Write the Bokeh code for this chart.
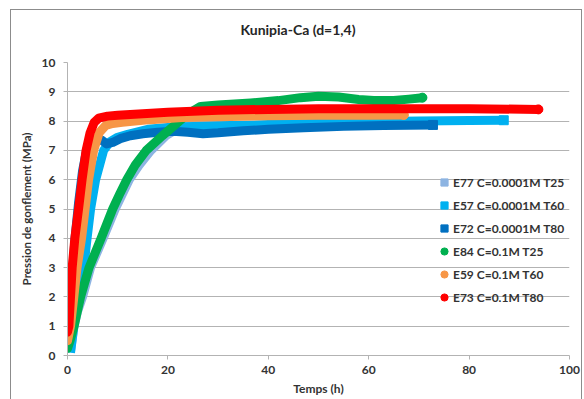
from bokeh.plotting import figure
from bokeh.models import Legend, LegendItem, FixedTicker
from bokeh.embed import file_html
from bokeh.resources import INLINE

# ---- data ----
title_text = "Kunipia-Ca (d=1,4)"

e77_t = [0.6, 1.3, 2.0, 3.0, 4.6, 7.1, 9.5, 12.3, 14.3, 16.6, 19.6, 23.0, 26.0, 29.0]
e77_p = [0.15, 1.0, 1.5, 2.0, 3.0, 4.0, 5.0, 6.0, 6.5, 7.0, 7.5, 7.85, 7.95, 8.0]

e57_t = [0.6, 1.26, 2.25, 3.25, 3.9, 4.6, 5.6, 7.2, 8.5, 10, 12, 16, 20, 25, 30, 40, 50, 60, 70, 80, 86.9]
e57_p = [0.1, 1.0, 2.0, 3.0, 4.0, 5.0, 6.0, 7.0, 7.3, 7.45, 7.55, 7.72, 7.78, 7.82, 7.84, 7.88, 7.93, 7.98, 8.0, 8.02, 8.03]

e72_t = [0, 0.4, 0.9, 1.5, 2.2, 3.0, 3.8, 4.5, 5.5, 6.8, 7.8, 9.0, 10.5, 12.5, 15, 18, 21, 24, 27, 30, 35, 40, 47, 55, 63, 72.8]
e72_p = [0.6, 1.5, 2.6, 4.0, 5.2, 6.3, 7.0, 7.38, 7.4, 7.35, 7.22, 7.27, 7.4, 7.5, 7.57, 7.62, 7.65, 7.62, 7.57, 7.6, 7.67, 7.72, 7.77, 7.82, 7.85, 7.87]

e84_t = [0.0, 0.5, 1.3, 2.6, 4.3, 6.7, 9.0, 10.5, 11.8, 13.5, 15.7, 18.9, 22.3, 24.5, 26.5, 30, 36.5, 42, 46.4, 50, 54, 58, 61, 65, 68, 70.7]
e84_p = [0.24, 0.5, 1.0, 2.0, 3.0, 4.0, 5.0, 5.55, 6.0, 6.5, 7.0, 7.5, 8.0, 8.3, 8.5, 8.55, 8.62, 8.7, 8.8, 8.85, 8.82, 8.74, 8.7, 8.7, 8.75, 8.8]

e59_t = [0, 0.6, 1.26, 1.9, 2.8, 3.5, 4.2, 5.2, 6.3, 7.6, 9.0, 10.9, 16.5, 22.8, 30, 40, 50, 60, 67]
e59_p = [0.5, 1.0, 2.0, 3.0, 4.0, 5.0, 6.0, 7.0, 7.6, 7.85, 7.92, 7.96, 8.05, 8.12, 8.15, 8.18, 8.2, 8.2, 8.21]

e73_t = [0, 0.27, 0.6, 0.93, 1.46, 2.2, 2.9, 3.7, 4.5, 5.3, 6.2, 8, 10, 15, 20, 30, 40, 50, 60, 70, 80, 93.8]
e73_p = [0.8, 1.0, 2.0, 3.0, 4.0, 5.0, 6.0, 7.0, 7.6, 7.95, 8.1, 8.17, 8.2, 8.25, 8.3, 8.37, 8.4, 8.42, 8.42, 8.42, 8.42, 8.4]

labels = ["E77 C=0.0001M T25", "E57 C=0.0001M T60", "E72 C=0.0001M T80",
          "E84 C=0.1M T25", "E59 C=0.1M T60", "E73 C=0.1M T80"]
colors = ["#8db4e2", "#00b0f0", "#0070c0", "#00b050", "#f79646", "#ff0000"]
markers = ["square", "square", "square", "circle", "circle", "circle"]
series = [(e77_t, e77_p), (e57_t, e57_p), (e72_t, e72_p),
          (e84_t, e84_p), (e59_t, e59_p), (e73_t, e73_p)]

x_ticks = [0, 20, 40, 60, 80, 100]
y_ticks = [0, 1, 2, 3, 4, 5, 6, 7, 8, 9, 10]

FONT = "Lato"
TXT = "#333333"
GRID = "#b3b3b3"

p = figure(width=572, height=400, x_range=(0, 100), y_range=(0, 10),
           output_backend="svg", toolbar_location=None,
           min_border_left=56, min_border_right=14, min_border_top=52, min_border_bottom=55,
           title=title_text + "\n")
p.styles = {"margin-left": "10px", "margin-top": "9px", "border": "1px solid #8c8c8c"}
p.outline_line_color = None

p.title.align = "left"
p.title.offset = 173
p.title.vertical_align = "bottom"
p.title.text_line_height = 1.15
p.title.text_font = FONT
p.title.text_font_size = "14px"
p.title.text_font_style = "bold"
p.title.text_color = "#262626"

p.xaxis.ticker = FixedTicker(ticks=x_ticks)
p.yaxis.ticker = FixedTicker(ticks=y_ticks)
for ax in (p.xaxis, p.yaxis):
    ax.axis_line_color = GRID
    ax.major_tick_line_color = GRID
    ax.major_tick_out = 4
    ax.major_tick_in = 0
    ax.minor_tick_line_color = None
    ax.major_label_text_font = FONT
    ax.major_label_text_font_size = "12px"
    ax.major_label_text_font_style = "bold"
    ax.major_label_text_color = TXT
    ax.axis_label_text_font = FONT
    ax.axis_label_text_font_size = "12px"
    ax.axis_label_text_font_style = "bold"
    ax.axis_label_text_color = TXT

p.xaxis.axis_label = "Temps (h)"
p.yaxis.axis_label = "Pression de gonflement (MPa)"
p.yaxis.axis_label_text_font_size = "11.5px"
p.xaxis.major_label_standoff = 6
p.xaxis.axis_label_standoff = 4
p.yaxis.major_label_standoff = 8
p.yaxis.axis_label_standoff = 6

p.xgrid.grid_line_color = None
p.ygrid.grid_line_color = GRID
p.ygrid.ticker = FixedTicker(ticks=y_ticks[1:])

items = []
for (t, v), c, m, lab in zip(series, colors, markers, labels):
    cap = "round" if m == "circle" else "butt"
    p.line(t, v, line_color=c, line_width=9, line_cap=cap, line_join="round")
    r = p.scatter([t[-1]], [v[-1]], marker=m, size=9, fill_color=c, line_color=c)
    items.append(LegendItem(label=lab, renderers=[r]))

legend = Legend(items=items, location=(368, 49))
legend.background_fill_alpha = 0
legend.border_line_color = None
legend.padding = 0
legend.margin = 0
legend.spacing = 5
legend.glyph_width = 18
legend.glyph_height = 18
legend.label_height = 18
legend.label_standoff = -3
legend.label_text_font = FONT
legend.label_text_font_size = "12px"
legend.label_text_font_style = "bold"
legend.label_text_color = TXT
p.add_layout(legend, "center")

open("out.html", "w").write(file_html(p, INLINE))
